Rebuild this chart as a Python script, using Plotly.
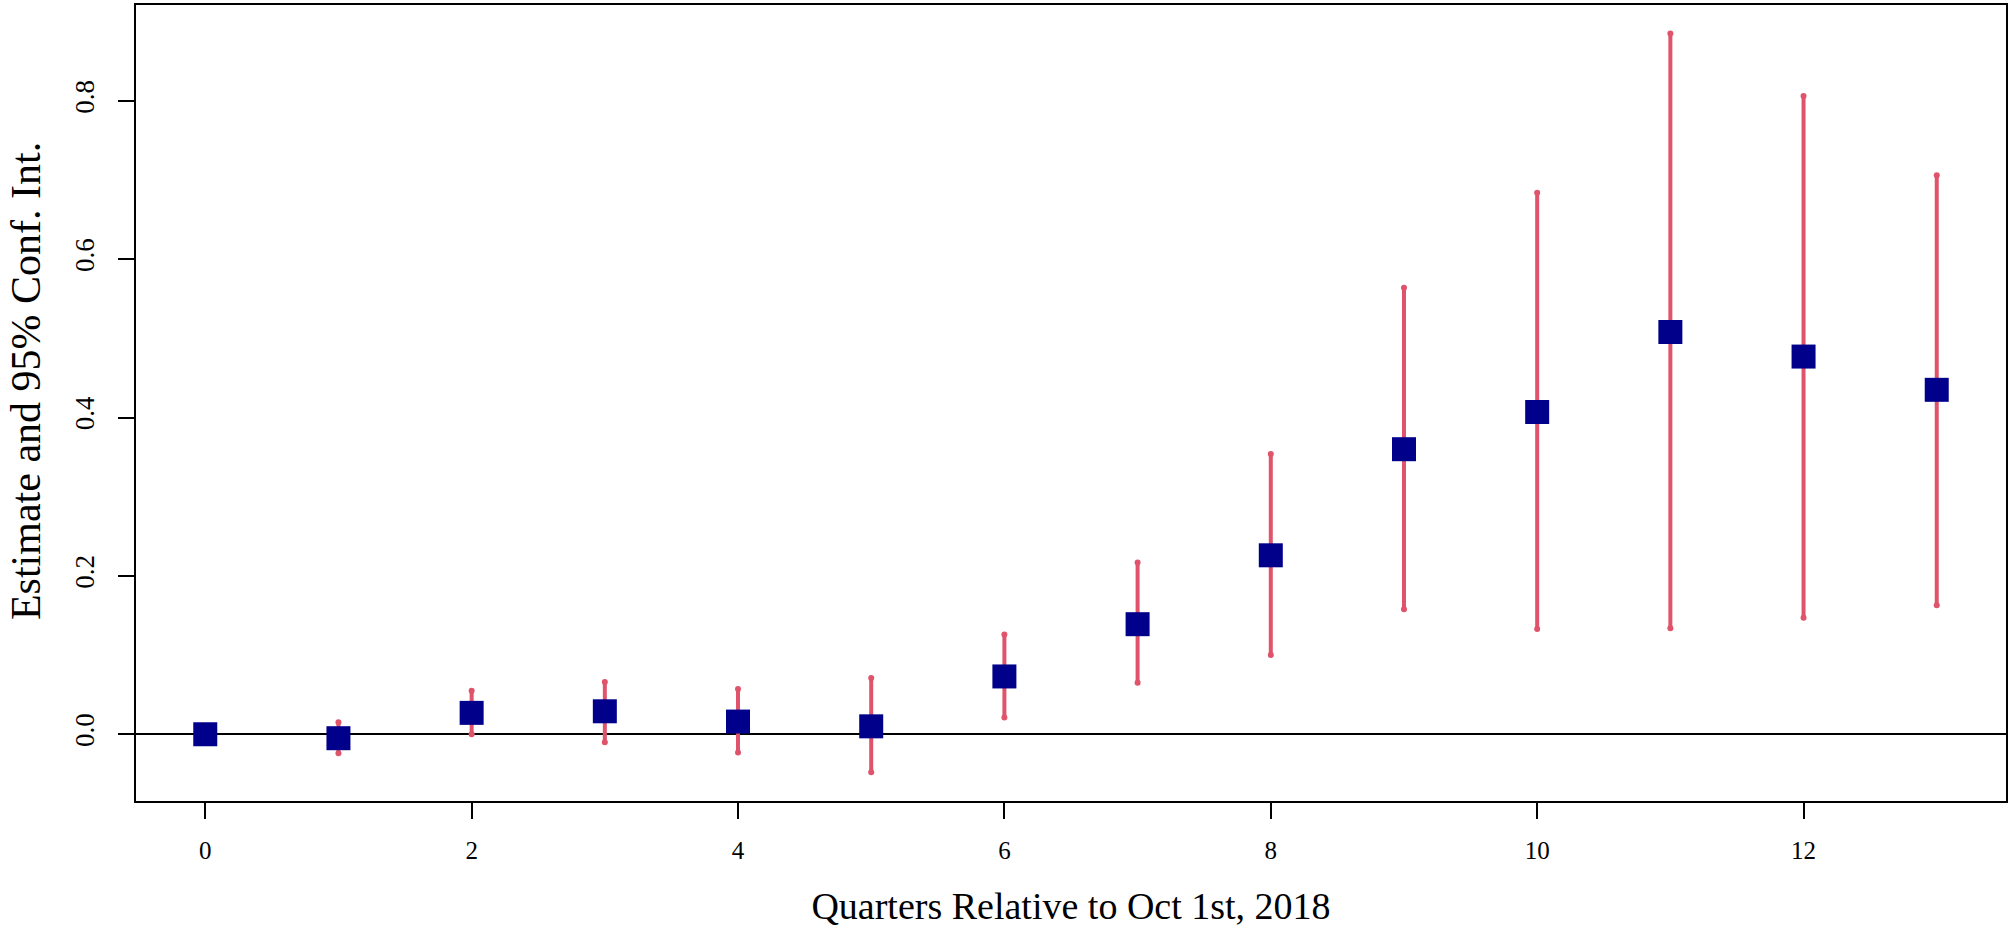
import plotly.graph_objects as go

# Event-study estimates by quarter
quarters = list(range(14))
estimate = [0.000, -0.005, 0.027, 0.029, 0.016, 0.010, 0.073, 0.139, 0.226, 0.360, 0.407, 0.508, 0.477, 0.435]
ci_low = [0.000, -0.024, 0.000, -0.010, -0.023, -0.048, 0.021, 0.065, 0.100, 0.158, 0.133, 0.134, 0.147, 0.163]
ci_high = [0.000, 0.015, 0.055, 0.066, 0.057, 0.071, 0.126, 0.217, 0.354, 0.564, 0.684, 0.885, 0.806, 0.706]

x_ticks = [0, 2, 4, 6, 8, 10, 12]
y_ticks = [0.0, 0.2, 0.4, 0.6, 0.8]
y_ticklabels = ["0.0", "0.2", "0.4", "0.6", "0.8"]

ci_color = "#DF536B"
pt_color = "#00008B"
font_family = "Liberation Serif, Times New Roman, serif"

fig = go.Figure()

# confidence-interval whiskers (with round end dots)
seg_x, seg_y = [], []
for q, lo, hi in zip(quarters, ci_low, ci_high):
    if hi == lo:
        continue
    seg_x += [q, q, None]
    seg_y += [lo, hi, None]
fig.add_trace(
    go.Scatter(
        x=seg_x, y=seg_y, mode="lines+markers",
        line=dict(color=ci_color, width=4),
        marker=dict(color=ci_color, size=6, symbol="circle"),
        hoverinfo="skip", showlegend=False,
    )
)

# point estimates
fig.add_trace(
    go.Scatter(
        x=quarters, y=estimate, mode="markers",
        marker=dict(color=pt_color, size=24, symbol="square", line=dict(width=0)),
        showlegend=False,
    )
)

axis_common = dict(
    showline=True, linecolor="black", linewidth=1.5, mirror=True,
    ticks="outside", ticklen=16, tickwidth=1.5, tickcolor="black",
    showgrid=False,
)

fig.update_layout(
    width=2011, height=927,
    paper_bgcolor="white", plot_bgcolor="white",
    margin=dict(l=136, r=3, t=3, b=126),
    font=dict(family=font_family, color="black"),
    xaxis=dict(
        range=[-0.52, 13.52], tickvals=x_ticks, zeroline=False,
        tickfont=dict(size=25), ticklabelstandoff=10,
        title=dict(text="Quarters Relative to Oct 1st, 2018", font=dict(size=38), standoff=30),
        **axis_common,
    ),
    yaxis=dict(
        range=[-0.0843, 0.921], tickvals=y_ticks, ticktext=y_ticklabels,
        tickangle=-90, tickfont=dict(size=27), ticklabelstandoff=13,
        zeroline=True, zerolinecolor="black", zerolinewidth=1.5,
        **axis_common,
    ),
)

# y-axis title as an annotation so it can sit slightly above centre like the original
fig.add_annotation(
    text="Estimate and 95% Conf. Int.", textangle=-90,
    xref="paper", yref="paper", x=-0.0588, y=0.5276,
    xanchor="center", yanchor="middle", showarrow=False,
    font=dict(size=42),
)

fig.write_html(
    "out.html",
    config={"displayModeBar": False},
    post_script="document.body.style.margin='0';",
)
